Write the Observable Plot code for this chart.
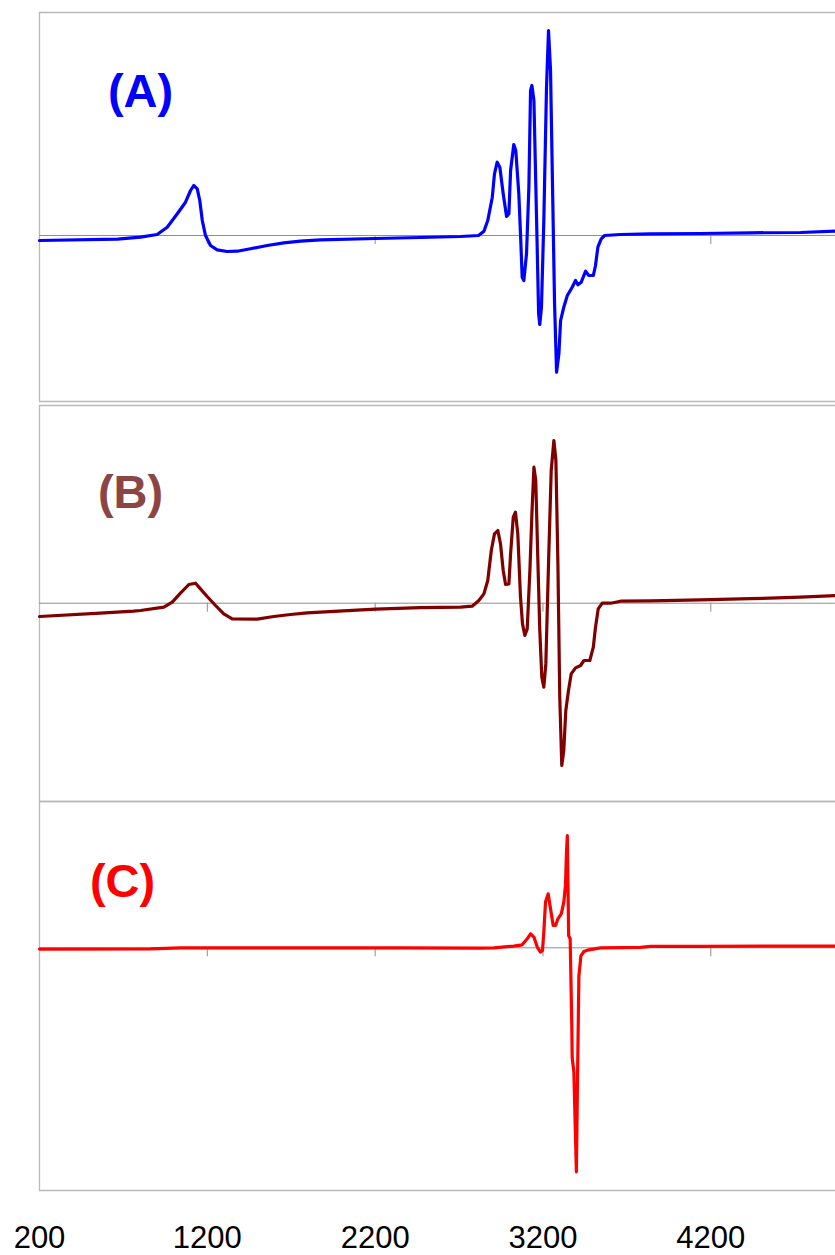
<!DOCTYPE html>
<html>
<head>
<meta charset="utf-8">
<script src="https://cdn.jsdelivr.net/npm/d3@7"></script>
<script src="https://cdn.jsdelivr.net/npm/@observablehq/plot@0.6"></script>
<style>
  html, body { margin: 0; padding: 0; background: #fff; }
  #chart { position: relative; width: 835px; height: 1255px; overflow: hidden; }
  #chart svg { display: block; position: absolute; left: 0; overflow: visible; }
</style>
</head>
<body>
<div id="chart"></div>
<script>
// Magnetic field axis (G) and its labels
const fieldDomain = [200, 4943];
const fieldTicks = [200, 1200, 2200, 3200, 4200];
const zeroLineTicks = [1200, 2200, 3200, 4200];

// Panel labels and colours
const panelLabels = ["(A)", "(B)", "(C)"];
const lineColors = ["#0000ff", "#800000", "#ff0000"];
const labelColors = ["#0000ff", "#8b4545", "#ff0000"];

// Spectra: [field (G), signal (a.u.)]
const spectrumA = [
  [200, -5], [665, -3.7], [802, -1.7], [901, 1], [961, 8.3], [1021, 21.7], [1070, 33.3],
  [1100, 45], [1119, 50], [1140, 46.7], [1155, 35], [1170, 15], [1189, 0], [1219, -10],
  [1259, -14.3], [1318, -16], [1378, -15.7], [1457, -13.3], [1557, -10], [1656, -7.3],
  [1755, -5.7], [1874, -4.3], [2202, -3], [2470, -2], [2709, -1], [2816, 0], [2848, 4.3],
  [2871, 15], [2898, 38.3], [2911, 61.7], [2927, 73.3], [2943, 68.3], [2963, 41.7],
  [2983, 19], [2997, 21.7], [3007, 65], [3026, 91], [3038, 85], [3056, 41.7], [3066, 2],
  [3076, -41.7], [3086, -45], [3102, -18], [3116, 48.3], [3126, 145], [3134, 150],
  [3146, 135], [3162, 15], [3174, -78], [3181, -89], [3191, -71.7], [3205, 15],
  [3221, 148.3], [3233, 205], [3245, 165], [3257, 48.3], [3269, -68], [3281, -136.7],
  [3295, -118], [3305, -85], [3324, -71.7], [3345, -60], [3374, -51.7], [3394, -45],
  [3408, -49.3], [3428, -46.7], [3454, -35.7], [3473, -40], [3500, -40], [3513, -30],
  [3527, -11.7], [3547, -3.3], [3567, 0], [3662, 1], [3841, 1.7], [4139, 2],
  [4437, 2.7], [4735, 3], [4943, 4.3]
];

const spectrumB = [
  [200, -13.3], [563, -10], [760, -8], [802, -7.3], [941, -4], [991, 1], [1040, 10],
  [1090, 18.7], [1130, 20], [1159, 14.3], [1199, 6.7], [1249, -2.3], [1298, -10.7],
  [1348, -15.7], [1497, -16], [1596, -13.3], [1696, -11.3], [1795, -9.7], [1874, -9],
  [2202, -6], [2470, -4.5], [2709, -4], [2778, -3], [2818, 2.7], [2848, 9.3], [2871, 22.7],
  [2892, 52.7], [2911, 69.3], [2931, 72.7], [2947, 59.3], [2963, 32.7], [2977, 18.7],
  [2997, 19.3], [3007, 49.3], [3023, 86], [3036, 91], [3050, 69.3], [3066, 6],
  [3078, -20.7], [3092, -32.3], [3106, -25.7], [3122, 32.7], [3134, 89.3], [3146, 136],
  [3157, 122.7], [3169, 46], [3181, -27.3], [3193, -74], [3205, -84], [3217, -60.7],
  [3233, 39.3], [3249, 132.7], [3265, 162.7], [3277, 142.7], [3289, 39.3], [3300, -94],
  [3312, -162.3], [3324, -147.3], [3336, -107.3], [3352, -87.3], [3368, -70.7],
  [3394, -64.7], [3424, -62.3], [3444, -57.3], [3479, -57.3], [3500, -44], [3513, -24],
  [3529, -5.7], [3553, 0], [3603, 0], [3662, 2], [3841, 2.3], [4139, 3.3], [4437, 4.5],
  [4735, 6], [4943, 7.7]
];

const spectrumC = [
  [200, -1.3], [861, -1], [1040, 0], [1267, 0], [1755, 0], [2351, 0], [2828, -0.3],
  [2907, 0], [3026, 1.7], [3076, 3], [3106, 9], [3126, 14], [3146, 10.7], [3166, 0.7],
  [3185, -4.3], [3197, -2.7], [3205, 15.7], [3215, 45.7], [3231, 54], [3245, 39],
  [3261, 22.3], [3275, 22.3], [3289, 29], [3309, 34], [3324, 45.7], [3334, 62.3],
  [3340, 95], [3345, 112.3], [3353, 12], [3362, 9], [3372, -80], [3374, -110],
  [3384, -124], [3399, -224], [3405, -140], [3414, -28], [3426, -8], [3444, -3.7],
  [3473, -2], [3543, 0], [3781, 0.5], [3841, 1.5], [3871, 1.5], [4139, 1.5], [4943, 1.7]
];

const fontFamily = "'Liberation Sans', Arial, Helvetica, sans-serif";
const frameColor = "#b9b9b9";
const zeroColor = "#8f8f8f";

function panel({data, index, top, height, marginTop, marginBottom, yDomain, labelDx, labelDy, withAxis}) {
  const marks = [
    Plot.ruleY([yDomain[1]], {stroke: frameColor, strokeWidth: 1.3}),
    Plot.ruleY([yDomain[0]], {stroke: frameColor, strokeWidth: 1.3}),
    Plot.ruleX([fieldDomain[0]], {stroke: frameColor, strokeWidth: 1.3}),
    Plot.ruleY([0], {stroke: zeroColor, strokeWidth: 1}),
    Plot.ruleX(zeroLineTicks, {x: d => d, y1: 0, y2: -9, stroke: zeroColor, strokeWidth: 1}),
    Plot.line(data, {
      x: d => d[0], y: d => d[1],
      stroke: lineColors[index], strokeWidth: 3.2,
      strokeLinejoin: "round", strokeLinecap: "round"
    }),
    Plot.text([panelLabels[index]], {
      text: d => d, frameAnchor: "top-left", dx: labelDx, dy: labelDy,
      textAnchor: "middle", lineAnchor: "bottom",
      fill: labelColors[index], fontSize: 47, fontWeight: "bold"
    })
  ];
  if (withAxis) {
    marks.push(Plot.axisX({
      ticks: fieldTicks, tickFormat: d => String(d),
      tickSize: 0, tickPadding: 35, fontSize: 31, color: "#000"
    }));
  }
  const svg = Plot.plot({
    width: 835, height,
    marginLeft: 39, marginRight: 0, marginTop, marginBottom,
    style: {fontFamily, background: "transparent", overflow: "visible"},
    x: {domain: fieldDomain, axis: null},
    y: {domain: yDomain, axis: null},
    marks
  });
  svg.style.top = top + "px";
  return svg;
}

const chart = document.getElementById("chart");
chart.append(
  panel({data: spectrumA, index: 0, top: 0, height: 402, marginTop: 12, marginBottom: 1,
         yDomain: [-166, 223], labelDx: 101, labelDy: 94.7}),
  panel({data: spectrumB, index: 1, top: 402, height: 399, marginTop: 3, marginBottom: 0,
         yDomain: [-198.3, 197.7], labelDx: 91, labelDy: 102}),
  panel({data: spectrumC, index: 2, top: 801, height: 454, marginTop: 0, marginBottom: 65,
         yDomain: [-242.7, 146.3], labelDx: 83, labelDy: 95.7, withAxis: true})
);
</script>
</body>
</html>
